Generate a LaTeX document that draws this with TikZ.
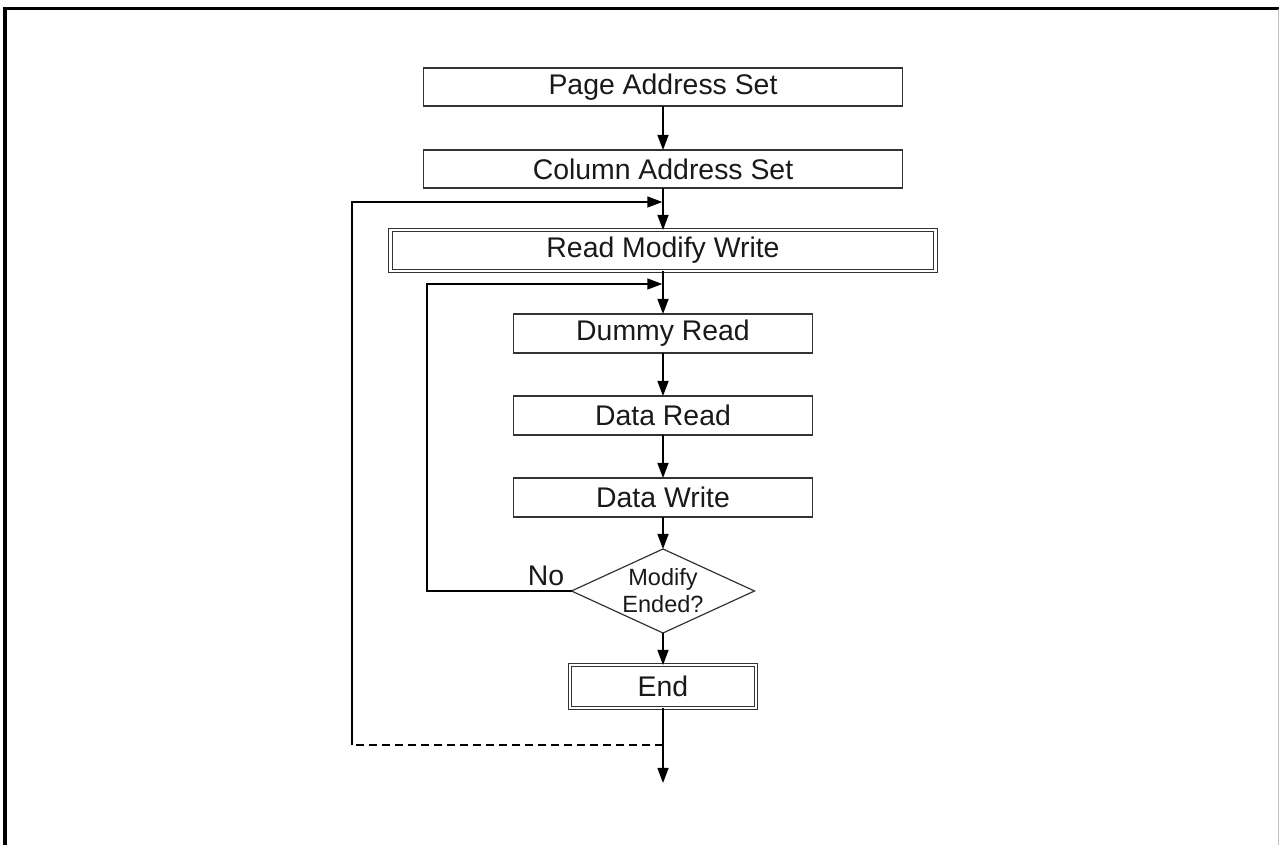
\documentclass[tikz,border=0pt]{standalone}
\usepackage{fontspec}
\setmainfont{Liberation Sans}
\usetikzlibrary{arrows.meta}
\usetikzlibrary{positioning}
\usetikzlibrary{shapes.geometric}

\begin{document}
\begin{tikzpicture}[
	x=1pt, y=1pt,
	line width=1.4pt,
	every node/.style={font=\fontsize{28.4}{32}\selectfont, outer sep=0pt, text=black!90},
	stepbox/.style={draw=black!80, line width=1.2pt, minimum height=38pt, inner sep=0pt},
	dblbox/.style={draw=black!80, line width=1pt, double, double distance=2.4pt, inner sep=0pt},
	decision/.style={draw=black!80, line width=1.2pt, diamond, aspect=2.2, inner sep=0pt,
		minimum width=183pt, minimum height=84pt, align=center,
		font=\fontsize{23.5}{27}\selectfont},
	flow/.style={-{Triangle[length=15pt, width=11pt]}}
]
\useasboundingbox (0,0) rectangle (1279,845);

% frame
\draw[line width=3pt] (3,836) -- (1279,836);
\draw[line width=3.5pt] (5,837.5) -- (5,0);
\draw[line width=1pt, color=black!25] (1278,836) -- (1278,0);

% steps
\node[stepbox, minimum width=479pt] (page) at (663,758) {Page Address Set};
\node[stepbox, minimum width=479pt, below=44pt of page] (column) {Column Address Set};
\node[dblbox, minimum width=545pt, minimum height=41pt, below=42pt of column] (rmw) {Read Modify Write};
\node[stepbox, minimum width=299pt, minimum height=39pt, below=43pt of rmw] (dummy) {Dummy Read};
\node[stepbox, minimum width=299pt, minimum height=39pt, below=43pt of dummy] (dread) {Data Read};
\node[stepbox, minimum width=299pt, minimum height=39pt, below=43pt of dread] (dwrite) {Data Write};
\node[decision, below=32pt of dwrite] (ended) {Modify\\Ended?};
\node[dblbox, minimum width=186pt, minimum height=43pt, below=32pt of ended] (finish) {End};

\node (no) at (546,269) {No};

\coordinate (outerin) at (663,643);
\coordinate (innerin) at (663,561);
\coordinate (outerout) at (663,100);
\coordinate (tail) at (663,62);

% main flow
\draw[flow] (page) -- (column);
\draw[flow] (column) -- (rmw);
\draw[flow] (rmw) -- (dummy);
\draw[flow] (dummy) -- (dread);
\draw[flow] (dread) -- (dwrite);
\draw[flow] (dwrite) -- (ended);
\draw[flow] (ended) -- (finish);
\draw[flow] (finish) -- (tail);

% loops
\draw[flow] (ended.west) -- (427,254) |- ([xshift=-0.7pt]innerin);
\draw[dashed, dash pattern=on 8pt off 5pt] (outerout) -- (352,100);
\draw[flow] (352,100) |- ([xshift=-0.7pt]outerin);
\end{tikzpicture}
\end{document}
